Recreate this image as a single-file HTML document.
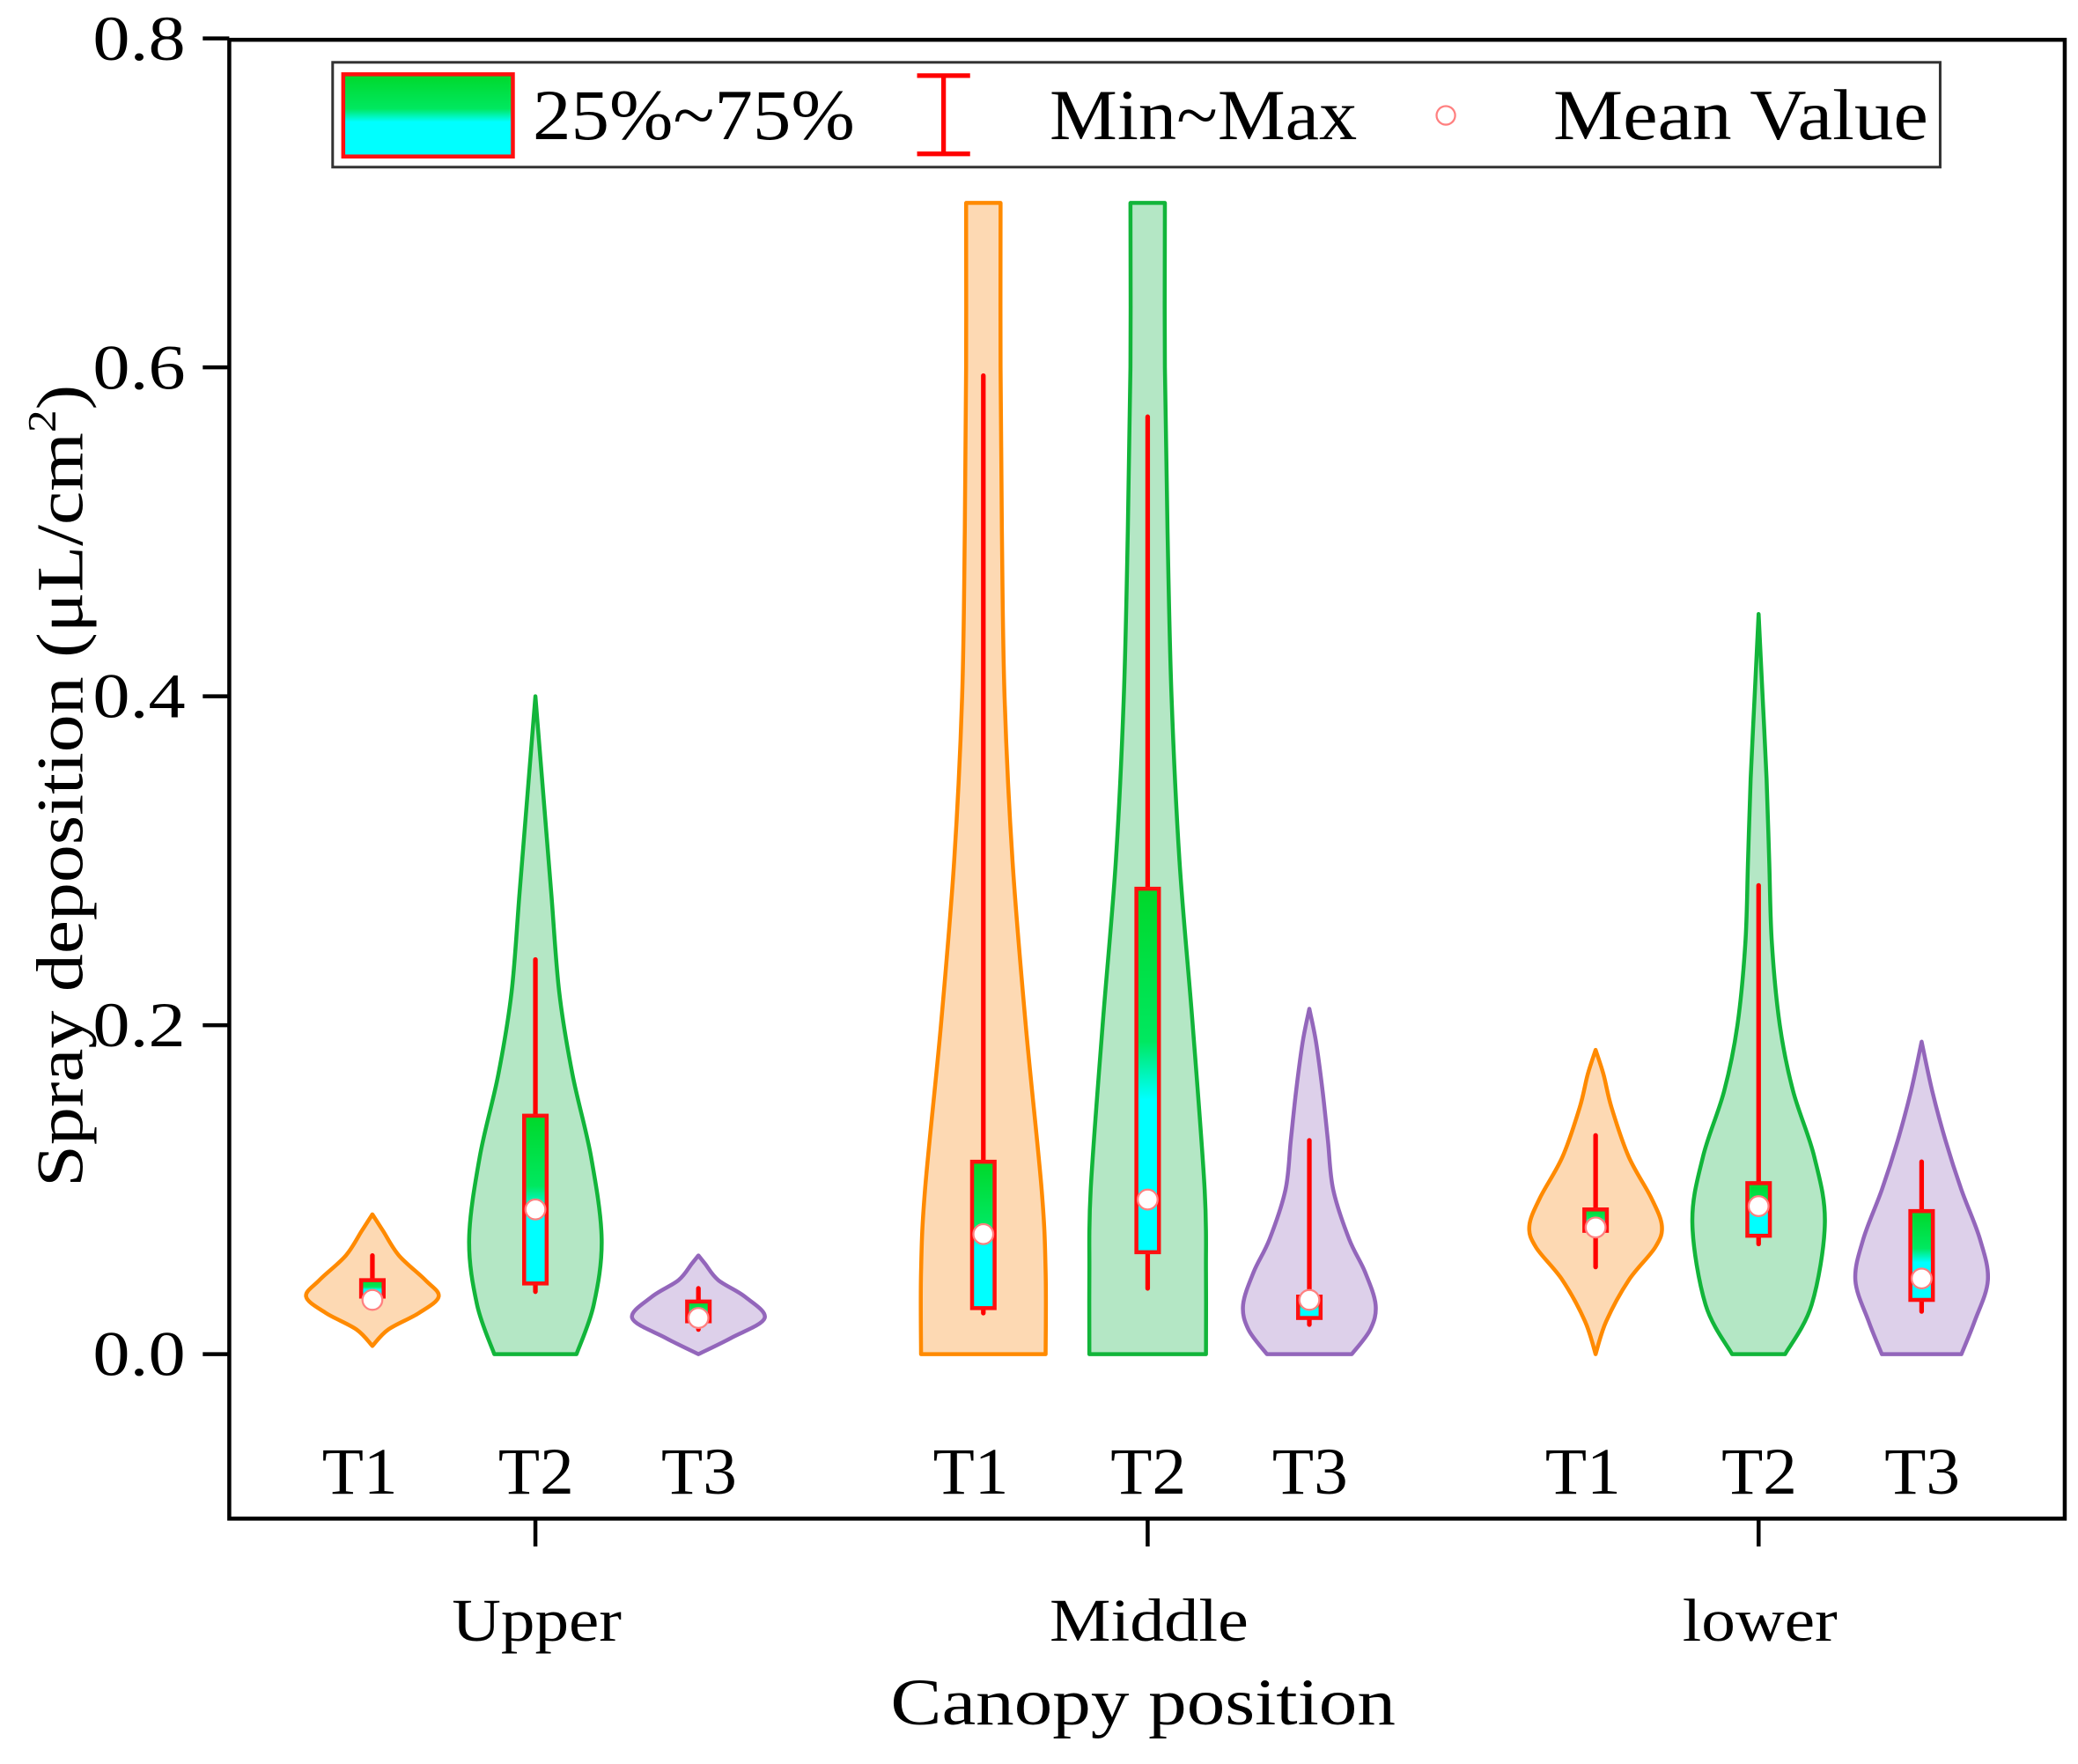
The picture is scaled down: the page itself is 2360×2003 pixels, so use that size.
<!DOCTYPE html>
<html><head><meta charset="utf-8">
<style>
html,body{margin:0;padding:0;background:#fff;}
svg{display:block;}
text{font-family:"Liberation Serif",serif;fill:#000;}
</style></head>
<body>
<svg id="chart" width="2360" height="2003" viewBox="0 0 1568 1330" preserveAspectRatio="none" xmlns="http://www.w3.org/2000/svg">
<defs>
<linearGradient id="boxgrad" x1="0" y1="0" x2="0" y2="1">
<stop offset="0" stop-color="#00d82a"/><stop offset="0.42" stop-color="#00e860"/><stop offset="0.58" stop-color="#00ffff"/><stop offset="1" stop-color="#00ffff"/>
</linearGradient>
</defs>
<g id="plot"></g>
</svg>
<script>
// Data
const groups = ["Upper","Middle","lower"];
const treatments = ["T1","T2","T3"];
const centers = [281,404,527,742,866,988,1204,1327,1450];
const violinTypes = [0,1,2,0,1,2,0,1,2];
// density profiles: value levels and half-widths
const profVals = [
 [0.005,0.015,0.025,0.035,0.045,0.06,0.075,0.085],
 [0,0.03,0.07,0.12,0.17,0.22,0.28,0.34,0.38,0.4],
 [0,0.01,0.022,0.035,0.045,0.055,0.06],
 [0,0.05,0.1,0.2,0.3,0.4,0.5,0.6,0.7],
 [0,0.05,0.1,0.2,0.3,0.4,0.5,0.6,0.7],
 [0,0.015,0.03,0.05,0.07,0.1,0.13,0.16,0.19,0.21],
 [0,0.02,0.045,0.065,0.078,0.095,0.12,0.15,0.17,0.185],
 [0,0.03,0.08,0.12,0.16,0.2,0.25,0.3,0.35,0.4,0.45],
 [0,0.02,0.045,0.07,0.1,0.13,0.16,0.19]
];
const profWidths = [
 [0,12,35,50,40,20,8,0],
 [31,44,50,42,28,18,12,6,2,0],
 [0,25,50,35,15,5,0],
 [47,47,44,32,22,16,14,13,13],
 [44,44,43,34,24,18,15,13,13],
 [32,46,50,42,30,18,14,10,5,0],
 [0,8,25,45,50,42,25,12,6,0],
 [20,40,50,42,26,16,10,8,6,3,0],
 [30,40,50,44,30,18,8,0]
];
const q1 = [0.035,0.043,0.020,0.028,0.062,0.022,0.075,0.072,0.033];
const q3 = [0.045,0.145,0.032,0.117,0.283,0.035,0.088,0.104,0.087];
const wMin = [0.030,0.038,0.015,0.025,0.040,0.018,0.053,0.067,0.026];
const wMax = [0.060,0.240,0.040,0.595,0.570,0.130,0.133,0.285,0.117];
const means = [0.033,0.088,0.022,0.073,0.094,0.033,0.077,0.090,0.046];
const yTicks = [0,0.2,0.4,0.6,0.8];
const yTickLabels = ["0.0","0.2","0.4","0.6","0.8"];

const fills = ["#fdd9b3","#b4e7c5","#ddd0ea"];
const strokes = ["#ff8a00","#12b53a","#9366bb"];
const NS="http://www.w3.org/2000/svg";
const plot=document.getElementById('plot');
function y(v){return 1021 - v*1240;}
function mk(tag,attrs,parent){const e=document.createElementNS(NS,tag);for(const k in attrs)e.setAttribute(k,attrs[k]);(parent||plot).appendChild(e);return e;}
function smooth(pts){
 let d="M"+pts[0][0]+","+pts[0][1];
 for(let i=0;i<pts.length-1;i++){
  const p0=pts[Math.max(0,i-1)],p1=pts[i],p2=pts[i+1],p3=pts[Math.min(pts.length-1,i+2)];
  const c1=[p1[0]+(p2[0]-p0[0])/6,p1[1]+(p2[1]-p0[1])/6];
  const c2=[p2[0]-(p3[0]-p1[0])/6,p2[1]-(p3[1]-p1[1])/6];
  d+=" C"+c1[0]+","+c1[1]+" "+c2[0]+","+c2[1]+" "+p2[0]+","+p2[1];
 }
 return d;
}
const frame=mk('rect',{x:173,y:30,width:1385,height:1115,fill:'none',stroke:'#000','stroke-width':3});


yTicks.forEach((t,i)=>{
 const tk=mk('line',{x1:153,x2:173,y1:y(t),y2:y(t),stroke:'#000','stroke-width':3});
 
 
 const lb=mk('text',{x:70,y:y(t)+16,'font-size':48,textLength:70,lengthAdjust:'spacingAndGlyphs'});
 lb.textContent=yTickLabels[i];
 
 
});
const groupLens=[128,150,117];
groups.forEach((g,i)=>{
 const cx=centers[i*3+1];
 const tk=mk('line',{x1:cx,x2:cx,y1:1145,y2:1166,stroke:'#000','stroke-width':3});
 
 
 const lb=mk('text',{x:cx-groupLens[i]/2+1,y:1237,'font-size':46,textLength:groupLens[i],lengthAdjust:'spacingAndGlyphs'});
 lb.textContent=g;
 
 
});
const xt=mk('text',{x:672,y:1300,'font-size':50,textLength:381,lengthAdjust:'spacingAndGlyphs'});
xt.textContent="Canopy position";


const yt=mk('text',{x:-895,y:0,'font-size':50,transform:'translate(62,0) rotate(-90)',textLength:605,lengthAdjust:'spacingAndGlyphs'});
yt.innerHTML='Spray deposition (μL/cm<tspan font-size="30" dy="-20">2</tspan><tspan dy="20">)</tspan>';



centers.forEach((cx,i)=>{
 const t=violinTypes[i];
 const vals=profVals[i], ws=profWidths[i];
 const right=vals.map((v,k)=>[cx+ws[k],y(v)]);
 const left=vals.map((v,k)=>[cx-ws[k],y(v)]).reverse();
 let d=smooth(right);
 d+=" L"+left[0][0]+","+left[0][1];
 d+=smooth(left).replace(/^M[^C]*/," ");
 d+=" Z";
 const vp=mk('path',{d:d,fill:fills[t],stroke:strokes[t],'stroke-width':3,'stroke-linejoin':'round'});
 
 
 const wl=mk('line',{x1:cx,x2:cx,y1:y(wMin[i]),y2:y(wMax[i]),stroke:'#ff0000','stroke-width':3.5,'stroke-linecap':'round'});
 
 
 const bx=mk('rect',{x:cx-8.5,y:y(q3[i]),width:17,height:Math.max(2,y(q1[i])-y(q3[i])),fill:'url(#boxgrad)',stroke:'#ff1010','stroke-width':3});
 
 
 const mc=mk('circle',{cx:cx,cy:y(means[i]),r:7.5,fill:'#fff',stroke:'#ff8080','stroke-width':1.5});
 
 
 const tl=mk('text',{x:cx-28-(t===0?10:0),y:1126,'font-size':50,textLength:57,lengthAdjust:'spacingAndGlyphs'});
 tl.textContent=treatments[t];
 
 
});

const lg=mk('g',{});


const lbox=mk('rect',{x:251,y:47,width:1213,height:79,fill:'#fff',stroke:'#333','stroke-width':2},lg);


const sw=mk('rect',{x:259,y:56,width:128,height:62,fill:'url(#boxgrad)',stroke:'#ff1010','stroke-width':3},lg);


const t1=mk('text',{x:402,y:105,'font-size':54,textLength:243,lengthAdjust:'spacingAndGlyphs'},lg);t1.textContent="25%~75%";


const eb=mk('path',{d:'M692,57 H732 M712,57 V116 M692,116 H732',stroke:'#ff0000','stroke-width':3.5,fill:'none'},lg);


const t2=mk('text',{x:792,y:105,'font-size':54,textLength:232,lengthAdjust:'spacingAndGlyphs'},lg);t2.textContent="Min~Max";


const lc=mk('circle',{cx:1091,cy:87,r:7,fill:'#fff',stroke:'#ff8080','stroke-width':1.5},lg);


const t3=mk('text',{x:1172,y:105,'font-size':54,textLength:283,lengthAdjust:'spacingAndGlyphs'},lg);t3.textContent="Mean Value";


</script>
</body></html>
